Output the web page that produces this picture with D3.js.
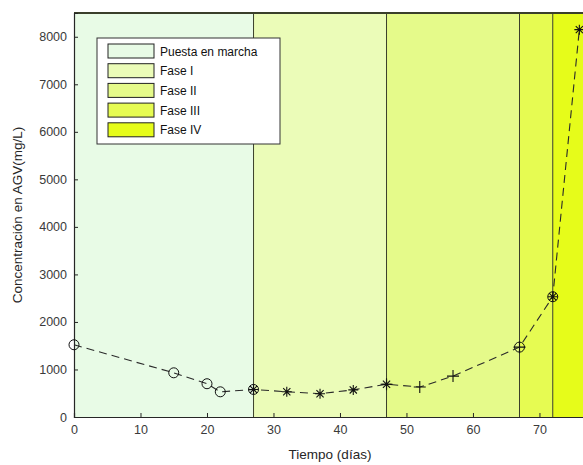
<!DOCTYPE html>
<html>
<head>
<meta charset="utf-8">
<script src="https://cdn.jsdelivr.net/npm/d3@7"></script>
<style>
  body { margin: 0; background: #fff; }
  text { font-family: "Liberation Sans", Arial, sans-serif; }
</style>
</head>
<body>
<div id="chart-area"></div>
<script>
// Data
const phaseNames = ["Puesta en marcha", "Fase I", "Fase II", "Fase III", "Fase IV"];
const phaseStart = [0, 27, 47, 67, 72];
const phaseEnd = [27, 47, 67, 72, 77];
const phaseColors = ["#e8fbe6", "#ebfcb8", "#e5fa8a", "#e6fb52", "#e6fc1a"];

const days = [0, 15, 20, 22, 27, 32, 37, 42, 47, 52, 57, 67, 72, 76];
const agv = [1520, 930, 700, 530, 580, 530, 490, 570, 690, 630, 860, 1470, 2530, 8150];
// marker per phase
const markerDays = [
  [0, 15, 20, 22, 27],   // circles
  [27, 32, 37, 42, 47],  // asterisks
  [47, 52, 57, 67],      // plus
  [67, 72],              // circles
  [72, 76]               // asterisks
];
const markerType = ["circle", "star", "plus", "circle", "star"];

const xTicks = [0, 10, 20, 30, 40, 50, 60, 70];
const yTicks = [0, 1000, 2000, 3000, 4000, 5000, 6000, 7000, 8000];

// Dimensions
const margin = { left: 74, right: -3, top: 13, bottom: 48 };
const width = 583 - margin.left - margin.right;
const height = 465 - margin.top - margin.bottom;

const svg = d3.select("#chart-area")
  .append("svg")
    .attr("width", 583)
    .attr("height", 465);

const chart = svg.append("g")
  .attr("transform", "translate(" + margin.left + ", " + margin.top + ")");

const x = d3.scaleLinear().domain([0, 77]).range([0, width]);
const y = d3.scaleLinear().domain([0, 8500]).range([height, 0]);

// Phase backgrounds
chart.selectAll("rect.phase")
  .data(phaseNames)
  .enter().append("rect")
    .attr("class", "phase")
    .attr("x", (d, i) => x(phaseStart[i]))
    .attr("y", 0)
    .attr("width", (d, i) => x(phaseEnd[i]) - x(phaseStart[i]))
    .attr("height", height)
    .attr("fill", (d, i) => phaseColors[i]);

// phase borders
chart.selectAll("line.border")
  .data(phaseStart.slice(1))
  .enter().append("line")
    .attr("x1", d => x(d)).attr("x2", d => x(d))
    .attr("y1", 0).attr("y2", height)
    .attr("stroke", "#3a3f2a")
    .attr("stroke-width", 1);

// top border
chart.append("line")
  .attr("x1", 0).attr("x2", width)
  .attr("y1", 0).attr("y2", 0)
  .attr("stroke", "#3a3f2a").attr("stroke-width", 2);

// Axes
const xAxis = chart.append("g")
  .attr("transform", "translate(0," + height + ")")
  .call(d3.axisBottom(x).tickValues(xTicks).tickFormat(d3.format("d")).tickSize(-4).tickPadding(8));
const yAxis = chart.append("g")
  .call(d3.axisLeft(y).tickValues(yTicks).tickFormat(d3.format("d")).tickSize(-4).tickPadding(7));

[xAxis, yAxis].forEach(a => {
  a.selectAll("path").attr("stroke", "#262626").attr("stroke-width", 1.2);
  a.selectAll("line").attr("stroke", "#262626");
  a.selectAll("text").attr("fill", "#3a3a3a").attr("font-size", "12.5px")
    .style("font-family", "'Liberation Sans', Arial, sans-serif");
});

// Labels
chart.append("text")
  .attr("x", width / 2)
  .attr("y", height + 42)
  .attr("text-anchor", "middle")
  .attr("font-size", "13.5px")
  .attr("fill", "#262626")
  .text("Tiempo (días)");

chart.append("text")
  .attr("transform", "rotate(-90)")
  .attr("x", -height / 2)
  .attr("y", -52)
  .attr("text-anchor", "middle")
  .attr("font-size", "13.5px")
  .attr("fill", "#262626")
  .text("Concentración en AGV(mg/L)");

// Dashed line
const line = d3.line().x(d => x(d[0])).y(d => y(d[1]));
chart.append("path")
  .datum(days.map((d, i) => [d, agv[i]]))
  .attr("d", line)
  .attr("fill", "none")
  .attr("stroke", "#2a2a2a")
  .attr("stroke-width", 1.1)
  .attr("stroke-dasharray", "8,5");

// Markers
function valueAt(day) { return agv[days.indexOf(day)]; }
const markerG = chart.append("g");
markerDays.forEach((list, i) => {
  list.forEach(day => {
    const g = markerG.append("g")
      .attr("transform", "translate(" + x(day) + "," + y(valueAt(day)) + ")");
    const t = markerType[i];
    if (t === "circle") {
      g.append("circle").attr("r", 5).attr("fill", "none")
        .attr("stroke", "#111").attr("stroke-width", 1);
    } else if (t === "plus") {
      g.append("path").attr("d", "M-6,0H6M0,-6V6")
        .attr("stroke", "#111").attr("stroke-width", 1.1);
    } else {
      g.append("path").attr("d", "M-5,0H5M0,-5V5M-3.6,-3.6L3.6,3.6M-3.6,3.6L3.6,-3.6")
        .attr("stroke", "#111").attr("stroke-width", 1.1);
    }
  });
});

// Legend
const legend = svg.append("g").attr("transform", "translate(97, 38)");
legend.append("rect")
  .attr("width", 183).attr("height", 106)
  .attr("fill", "#fff").attr("stroke", "#333").attr("stroke-width", 1);

phaseNames.forEach((name, i) => {
  const row = legend.append("g").attr("transform", "translate(0," + (6 + i * 19.7) + ")");
  row.append("rect")
    .attr("x", 11).attr("width", 46).attr("height", 14)
    .attr("fill", phaseColors[i]).attr("stroke", "#222").attr("stroke-width", 1);
  row.append("text")
    .attr("x", 63).attr("y", 11.5)
    .attr("font-size", "12px")
    .attr("fill", "#111")
    .text(name);
});
</script>
</body>
</html>
